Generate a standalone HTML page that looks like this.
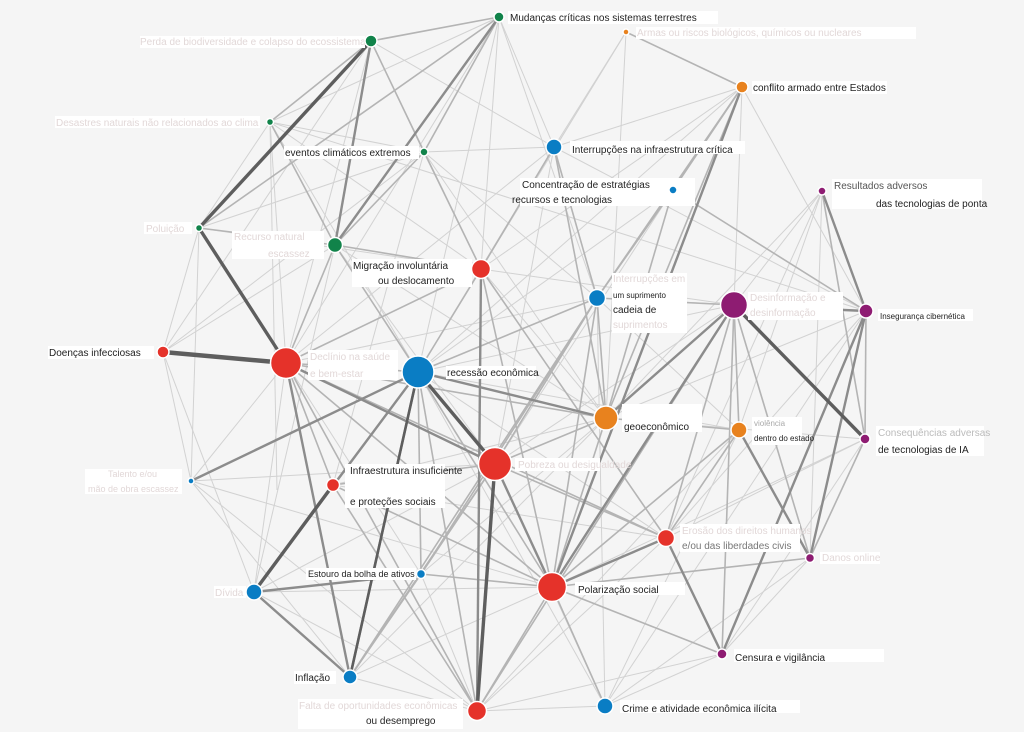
<!DOCTYPE html>
<html><head><meta charset="utf-8">
<style>
html,body{margin:0;padding:0;background:#f5f5f5;}
svg{display:block;font-family:"Liberation Sans",sans-serif;}
.t{stroke:#d2d2d2;stroke-width:1;}
.m{stroke:#b4b4b4;stroke-width:1.6;}
.d{stroke:#8c8c8c;stroke-width:2.4;}
.k{stroke:#5e5e5e;stroke-width:3.4;}
.lb{fill:#222;font-size:10px;}
.fl{fill:#e2d8d8;font-size:10px;}
.bg{fill:#fff;}
circle{stroke:#fff;stroke-width:1.5;}
</style></head><body>
<svg width="1024" height="732" viewBox="0 0 1024 732">
<rect width="1024" height="732" fill="#f5f5f5"/>
<g>
<!-- thin edges -->
<line class="t" x1="499" y1="17" x2="270" y2="122"/>
<line class="t" x1="499" y1="17" x2="554" y2="147"/>
<line class="t" x1="499" y1="17" x2="481" y2="269"/>
<line class="t" x1="499" y1="17" x2="597" y2="298"/>
<line class="t" x1="499" y1="17" x2="286" y2="363"/>
<line class="t" x1="499" y1="17" x2="418" y2="372"/>
<line class="t" x1="371" y1="41" x2="481" y2="269"/>
<line class="t" x1="371" y1="41" x2="163" y2="352"/>
<line class="t" x1="371" y1="41" x2="286" y2="363"/>
<line class="t" x1="371" y1="41" x2="554" y2="147"/>
<line class="t" x1="270" y1="122" x2="866" y2="311"/>
<line class="t" x1="270" y1="122" x2="424" y2="152"/>
<line class="t" x1="270" y1="122" x2="481" y2="269"/>
<line class="t" x1="270" y1="122" x2="418" y2="372"/>
<line class="t" x1="270" y1="122" x2="286" y2="363"/>
<line class="t" x1="270" y1="122" x2="199" y2="228"/>
<line class="t" x1="270" y1="122" x2="277" y2="490"/>
<line class="t" x1="424" y1="152" x2="163" y2="352"/>
<line class="t" x1="424" y1="152" x2="597" y2="298"/>
<line class="t" x1="424" y1="152" x2="606" y2="418"/>
<line class="t" x1="424" y1="152" x2="554" y2="147"/>
<line class="t" x1="424" y1="152" x2="333" y2="485"/>
<line class="t" x1="199" y1="228" x2="163" y2="352"/>
<line class="t" x1="199" y1="228" x2="191" y2="481"/>
<line class="t" x1="199" y1="228" x2="481" y2="269"/>
<line class="t" x1="199" y1="228" x2="424" y2="152"/>
<line class="t" x1="335" y1="245" x2="606" y2="418"/>
<line class="t" x1="335" y1="245" x2="254" y2="592"/>
<line class="t" x1="335" y1="245" x2="163" y2="352"/>
<line class="t" x1="335" y1="245" x2="495" y2="464"/>
<line class="t" x1="626" y1="32" x2="554" y2="147"/>
<line class="t" x1="626" y1="32" x2="481" y2="269"/>
<line class="t" x1="626" y1="32" x2="606" y2="418"/>
<line class="t" x1="626" y1="32" x2="418" y2="372"/>
<line class="t" x1="742" y1="87" x2="554" y2="147"/>
<line class="t" x1="742" y1="87" x2="734" y2="305"/>
<line class="t" x1="742" y1="87" x2="866" y2="311"/>
<line class="t" x1="742" y1="87" x2="481" y2="269"/>
<line class="t" x1="742" y1="87" x2="418" y2="372"/>
<line class="t" x1="554" y1="147" x2="418" y2="372"/>
<line class="t" x1="554" y1="147" x2="866" y2="311"/>
<line class="t" x1="554" y1="147" x2="495" y2="464"/>
<line class="t" x1="554" y1="147" x2="286" y2="363"/>
<line class="t" x1="673" y1="190" x2="418" y2="372"/>
<line class="t" x1="673" y1="190" x2="866" y2="311"/>
<line class="t" x1="673" y1="190" x2="495" y2="464"/>
<line class="t" x1="822" y1="191" x2="734" y2="305"/>
<line class="t" x1="822" y1="191" x2="606" y2="418"/>
<line class="t" x1="822" y1="191" x2="739" y2="430"/>
<line class="t" x1="822" y1="191" x2="810" y2="558"/>
<line class="t" x1="822" y1="191" x2="666" y2="538"/>
<line class="t" x1="734" y1="305" x2="810" y2="558"/>
<line class="t" x1="734" y1="305" x2="552" y2="587"/>
<line class="t" x1="734" y1="305" x2="495" y2="464"/>
<line class="t" x1="734" y1="305" x2="418" y2="372"/>
<line class="t" x1="866" y1="311" x2="722" y2="654"/>
<line class="t" x1="866" y1="311" x2="606" y2="418"/>
<line class="t" x1="866" y1="311" x2="666" y2="538"/>
<line class="t" x1="866" y1="311" x2="605" y2="706"/>
<line class="t" x1="865" y1="439" x2="722" y2="654"/>
<line class="t" x1="865" y1="439" x2="552" y2="587"/>
<line class="t" x1="865" y1="439" x2="606" y2="418"/>
<line class="t" x1="865" y1="439" x2="666" y2="538"/>
<line class="t" x1="810" y1="558" x2="605" y2="706"/>
<line class="t" x1="810" y1="558" x2="552" y2="587"/>
<line class="t" x1="810" y1="558" x2="722" y2="654"/>
<line class="t" x1="722" y1="654" x2="605" y2="706"/>
<line class="t" x1="722" y1="654" x2="477" y2="711"/>
<line class="t" x1="605" y1="706" x2="477" y2="711"/>
<line class="t" x1="605" y1="706" x2="495" y2="464"/>
<line class="t" x1="605" y1="706" x2="418" y2="372"/>
<line class="t" x1="605" y1="706" x2="739" y2="430"/>
<line class="t" x1="605" y1="706" x2="597" y2="298"/>
<line class="t" x1="191" y1="481" x2="286" y2="363"/>
<line class="t" x1="191" y1="481" x2="495" y2="464"/>
<line class="t" x1="191" y1="481" x2="477" y2="711"/>
<line class="t" x1="191" y1="481" x2="350" y2="677"/>
<line class="t" x1="191" y1="481" x2="552" y2="587"/>
<line class="t" x1="191" y1="481" x2="163" y2="352"/>
<line class="t" x1="254" y1="592" x2="495" y2="464"/>
<line class="t" x1="254" y1="592" x2="552" y2="587"/>
<line class="t" x1="254" y1="592" x2="477" y2="711"/>
<line class="t" x1="254" y1="592" x2="286" y2="363"/>
<line class="t" x1="254" y1="592" x2="163" y2="352"/>
<line class="t" x1="350" y1="677" x2="552" y2="587"/>
<line class="t" x1="350" y1="677" x2="477" y2="711"/>
<line class="t" x1="350" y1="677" x2="286" y2="363"/>
<line class="t" x1="350" y1="677" x2="606" y2="418"/>
<line class="t" x1="421" y1="574" x2="477" y2="711"/>
<line class="t" x1="421" y1="574" x2="606" y2="418"/>
<line class="t" x1="421" y1="574" x2="286" y2="363"/>
<line class="t" x1="477" y1="711" x2="666" y2="538"/>
<line class="t" x1="477" y1="711" x2="739" y2="430"/>
<line class="t" x1="477" y1="711" x2="286" y2="363"/>
<line class="t" x1="333" y1="485" x2="666" y2="538"/>
<line class="t" x1="333" y1="485" x2="606" y2="418"/>
<line class="t" x1="666" y1="538" x2="418" y2="372"/>
<line class="t" x1="739" y1="430" x2="418" y2="372"/>
<line class="t" x1="739" y1="430" x2="597" y2="298"/>
<line class="t" x1="481" y1="269" x2="606" y2="418"/>
<line class="t" x1="481" y1="269" x2="734" y2="305"/>
<line class="t" x1="597" y1="298" x2="286" y2="363"/>
<line class="t" x1="597" y1="298" x2="866" y2="311"/>
<!-- medium -->
<line class="m" x1="499" y1="17" x2="371" y2="41"/>
<line class="m" x1="499" y1="17" x2="424" y2="152"/>
<line class="m" x1="499" y1="17" x2="199" y2="228"/>
<line class="m" x1="626" y1="32" x2="742" y2="87"/>
<line class="m" x1="371" y1="41" x2="424" y2="152"/>
<line class="m" x1="371" y1="41" x2="270" y2="122"/>
<line class="m" x1="270" y1="122" x2="335" y2="245"/>
<line class="m" x1="424" y1="152" x2="335" y2="245"/>
<line class="m" x1="424" y1="152" x2="481" y2="269"/>
<line class="m" x1="199" y1="228" x2="335" y2="245"/>
<line class="m" x1="335" y1="245" x2="481" y2="269"/>
<line class="m" x1="335" y1="245" x2="418" y2="372"/>
<line class="m" x1="335" y1="245" x2="286" y2="363"/>
<line class="m" x1="742" y1="87" x2="597" y2="298"/>
<line class="m" x1="742" y1="87" x2="606" y2="418"/>
<line class="m" x1="742" y1="87" x2="673" y2="190"/>
<line class="m" x1="554" y1="147" x2="597" y2="298"/>
<line class="m" x1="554" y1="147" x2="606" y2="418"/>
<line class="m" x1="554" y1="147" x2="481" y2="269"/>
<line class="m" x1="673" y1="190" x2="597" y2="298"/>
<line class="m" x1="673" y1="190" x2="606" y2="418"/>
<line class="m" x1="822" y1="191" x2="866" y2="311"/>
<line class="m" x1="822" y1="191" x2="865" y2="439"/>
<line class="m" x1="734" y1="305" x2="866" y2="311"/>
<line class="m" x1="734" y1="305" x2="739" y2="430"/>
<line class="m" x1="734" y1="305" x2="722" y2="654"/>
<line class="m" x1="734" y1="305" x2="666" y2="538"/>
<line class="m" x1="734" y1="305" x2="810" y2="558"/>
<line class="m" x1="734" y1="305" x2="477" y2="711"/>
<line class="m" x1="866" y1="311" x2="865" y2="439"/>
<line class="m" x1="866" y1="311" x2="810" y2="558"/>
<line class="m" x1="865" y1="439" x2="810" y2="558"/>
<line class="m" x1="597" y1="298" x2="418" y2="372"/>
<line class="m" x1="597" y1="298" x2="606" y2="418"/>
<line class="m" x1="597" y1="298" x2="495" y2="464"/>
<line class="m" x1="597" y1="298" x2="552" y2="587"/>
<line class="m" x1="597" y1="298" x2="734" y2="305"/>
<line class="m" x1="606" y1="418" x2="418" y2="372"/>
<line class="m" x1="606" y1="418" x2="495" y2="464"/>
<line class="m" x1="606" y1="418" x2="552" y2="587"/>
<line class="m" x1="606" y1="418" x2="739" y2="430"/>
<line class="m" x1="606" y1="418" x2="286" y2="363"/>
<line class="m" x1="739" y1="430" x2="810" y2="558"/>
<line class="m" x1="739" y1="430" x2="552" y2="587"/>
<line class="m" x1="739" y1="430" x2="666" y2="538"/>
<line class="m" x1="481" y1="269" x2="418" y2="372"/>
<line class="m" x1="481" y1="269" x2="286" y2="363"/>
<line class="m" x1="481" y1="269" x2="552" y2="587"/>
<line class="m" x1="481" y1="269" x2="666" y2="538"/>
<line class="m" x1="286" y1="363" x2="418" y2="372"/>
<line class="m" x1="286" y1="363" x2="333" y2="485"/>
<line class="m" x1="286" y1="363" x2="552" y2="587"/>
<line class="m" x1="286" y1="363" x2="666" y2="538"/>
<line class="m" x1="418" y1="372" x2="333" y2="485"/>
<line class="m" x1="418" y1="372" x2="421" y2="574"/>
<line class="m" x1="418" y1="372" x2="477" y2="711"/>
<line class="m" x1="418" y1="372" x2="552" y2="587"/>
<line class="m" x1="191" y1="481" x2="418" y2="372"/>
<line class="m" x1="495" y1="464" x2="333" y2="485"/>
<line class="m" x1="495" y1="464" x2="666" y2="538"/>
<line class="m" x1="495" y1="464" x2="421" y2="574"/>
<line class="m" x1="495" y1="464" x2="350" y2="677"/>
<line class="m" x1="552" y1="587" x2="666" y2="538"/>
<line class="m" x1="552" y1="587" x2="810" y2="558"/>
<line class="m" x1="552" y1="587" x2="722" y2="654"/>
<line class="m" x1="552" y1="587" x2="605" y2="706"/>
<line class="m" x1="552" y1="587" x2="477" y2="711"/>
<line class="m" x1="552" y1="587" x2="333" y2="485"/>
<line class="m" x1="666" y1="538" x2="722" y2="654"/>
<line class="m" x1="333" y1="485" x2="477" y2="711"/>
<line class="m" x1="254" y1="592" x2="421" y2="574"/>
<line class="m" x1="254" y1="592" x2="350" y2="677"/>
<line class="m" x1="421" y1="574" x2="350" y2="677"/>
<line class="m" x1="421" y1="574" x2="552" y2="587"/>
<line class="m" x1="421" y1="574" x2="597" y2="298"/>
<line class="m" x1="350" y1="677" x2="597" y2="298"/>
<line class="m" x1="286" y1="363" x2="477" y2="711"/>
<line class="m" x1="673" y1="190" x2="866" y2="311"/>
<!-- dark -->
<line class="d" x1="499" y1="17" x2="335" y2="245"/>
<line class="d" x1="371" y1="41" x2="335" y2="245"/>
<line class="d" x1="742" y1="87" x2="552" y2="587"/>
<line class="d" x1="734" y1="305" x2="606" y2="418"/>
<line class="d" x1="734" y1="305" x2="866" y2="311"/>
<line class="d" x1="866" y1="311" x2="722" y2="654"/>
<line class="d" x1="822" y1="191" x2="866" y2="311"/>
<line class="d" x1="481" y1="269" x2="477" y2="711"/>
<line class="d" x1="418" y1="372" x2="350" y2="677"/>
<line class="d" x1="418" y1="372" x2="254" y2="592"/>
<line class="d" x1="418" y1="372" x2="606" y2="418"/>
<line class="d" x1="286" y1="363" x2="495" y2="464"/>
<line class="d" x1="286" y1="363" x2="350" y2="677"/>
<line class="d" x1="254" y1="592" x2="350" y2="677"/>
<line class="d" x1="254" y1="592" x2="421" y2="574"/>
<line class="d" x1="734" y1="305" x2="552" y2="587"/>
<line class="d" x1="495" y1="464" x2="552" y2="587"/>
<line class="d" x1="552" y1="587" x2="666" y2="538"/>
<line class="d" x1="666" y1="538" x2="722" y2="654"/>
<line class="d" x1="739" y1="430" x2="810" y2="558"/>
<line class="d" x1="866" y1="311" x2="810" y2="558"/>
<line class="d" x1="191" y1="481" x2="418" y2="372"/>
<!-- very dark -->
<line class="k" x1="163" y1="352" x2="286" y2="363" style="stroke-width:4.5"/>
<line class="k" x1="199" y1="228" x2="286" y2="363"/>
<line class="k" x1="199" y1="228" x2="371" y2="41"/>
<line class="k" x1="254" y1="592" x2="333" y2="485"/>
<line class="k" x1="734" y1="305" x2="865" y2="439"/>
<line class="k" x1="418" y1="372" x2="495" y2="464"/>
<line class="k" x1="495" y1="464" x2="477" y2="711"/>
<line class="k" x1="418" y1="372" x2="350" y2="677" style="stroke-width:2.6"/>
</g>

<!-- label backgrounds -->
<g class="bg">
<rect x="508" y="11" width="210" height="13"/>
<rect x="140" y="36" width="225" height="12"/>
<rect x="636" y="27" width="280" height="12"/>
<rect x="752" y="81" width="135" height="13"/>
<rect x="55" y="116" width="205" height="12"/>
<rect x="284" y="146" width="135" height="13"/>
<rect x="570" y="141" width="175" height="13"/>
<rect x="520" y="178" width="175" height="28"/>
<rect x="832" y="179" width="150" height="30"/>
<rect x="144" y="222" width="48" height="12"/>
<rect x="232" y="231" width="92" height="28"/>
<rect x="352" y="259" width="120" height="28"/>
<rect x="612" y="273" width="75" height="60"/>
<rect x="748" y="292" width="95" height="28"/>
<rect x="878" y="309" width="95" height="12"/>
<rect x="48" y="346" width="106" height="13"/>
<rect x="308" y="350" width="90" height="30"/>
<rect x="446" y="366" width="90" height="13"/>
<rect x="622" y="404" width="80" height="28"/>
<rect x="752" y="417" width="50" height="28"/>
<rect x="876" y="426" width="108" height="30"/>
<rect x="515" y="458" width="85" height="13"/>
<rect x="345" y="464" width="100" height="44"/>
<rect x="85" y="469" width="97" height="25"/>
<rect x="680" y="524" width="120" height="28"/>
<rect x="820" y="552" width="60" height="12"/>
<rect x="306" y="568" width="110" height="12"/>
<rect x="214" y="586" width="32" height="12"/>
<rect x="575" y="582" width="110" height="13"/>
<rect x="734" y="649" width="150" height="13"/>
<rect x="294" y="671" width="42" height="13"/>
<rect x="298" y="699" width="165" height="30"/>
<rect x="620" y="700" width="180" height="13"/>
</g>

<!-- labels -->
<g>
<text class="lb" x="510" y="21">Mudanças críticas nos sistemas terrestres</text>
<text class="fl" x="140" y="45">Perda de biodiversidade e colapso do ecossistema</text>
<text class="fl" x="637" y="36">Armas ou riscos biológicos, químicos ou nucleares</text>
<text class="lb" x="753" y="91">conflito armado entre Estados</text>
<text class="fl" x="56" y="126">Desastres naturais não relacionados ao clima</text>
<text class="lb" x="285" y="156">eventos climáticos extremos</text>
<text class="lb" x="572" y="153">Interrupções na infraestrutura crítica</text>
<text class="lb" x="522" y="188">Concentração de estratégias</text>
<text class="lb" x="512" y="203">recursos e tecnologias</text>
<text class="fl" x="834" y="189" style="fill:#555">Resultados adversos</text>
<text class="lb" x="876" y="207">das tecnologias de ponta</text>
<text class="fl" x="146" y="232">Poluição</text>
<text class="fl" x="234" y="240">Recurso natural</text>
<text class="fl" x="268" y="257">escassez</text>
<text class="lb" x="353" y="269">Migração involuntária</text>
<text class="lb" x="378" y="284">ou deslocamento</text>
<text class="fl" x="613" y="282">Interrupções em</text>
<text class="lb" x="613" y="298" style="font-size:8px">um suprimento</text>
<text class="lb" x="613" y="313">cadeia de</text>
<text class="fl" x="613" y="328">suprimentos</text>
<text class="fl" x="750" y="301">Desinformação e</text>
<text class="fl" x="750" y="316">desinformação</text>
<text class="lb" x="880" y="319" style="font-size:8px">Insegurança cibernética</text>
<text class="lb" x="49" y="356">Doenças infecciosas</text>
<text class="fl" x="310" y="360">Declínio na saúde</text>
<text class="fl" x="310" y="377">e bem-estar</text>
<text class="lb" x="447" y="376">recessão econômica</text>
<text class="lb" x="624" y="430">geoeconômico</text>
<text class="lb" x="754" y="426" style="font-size:8px;fill:#aaa">violência</text>
<text class="lb" x="754" y="441" style="font-size:8px">dentro do estado</text>
<text class="fl" x="878" y="436" style="fill:#bbb">Consequências adversas</text>
<text class="lb" x="878" y="453">de tecnologias de IA</text>
<text class="fl" x="518" y="468">Pobreza ou desigualdade</text>
<text class="lb" x="350" y="474">Infraestrutura insuficiente</text>
<text class="lb" x="350" y="505">e proteções sociais</text>
<text class="fl" x="108" y="477" style="font-size:9px">Talento e/ou</text>
<text class="fl" x="88" y="492" style="font-size:9px">mão de obra escassez</text>
<text class="fl" x="682" y="534">Erosão dos direitos humanos</text>
<text class="lb" x="682" y="549" style="fill:#777">e/ou das liberdades civis</text>
<text class="fl" x="822" y="561">Danos online</text>
<text class="lb" x="308" y="577" style="font-size:9px">Estouro da bolha de ativos</text>
<text class="fl" x="215" y="596">Dívida</text>
<text class="lb" x="578" y="593">Polarização social</text>
<text class="lb" x="735" y="661">Censura e vigilância</text>
<text class="lb" x="295" y="681">Inflação</text>
<text class="fl" x="299" y="709">Falta de oportunidades econômicas</text>
<text class="lb" x="366" y="724">ou desemprego</text>
<text class="lb" x="622" y="712">Crime e atividade econômica ilícita</text>
</g>

<!-- nodes -->
<g>
<circle cx="499" cy="17" r="5" fill="#11834a"/>
<circle cx="371" cy="41" r="6" fill="#11834a"/>
<circle cx="270" cy="122" r="3.5" fill="#11834a"/>
<circle cx="424" cy="152" r="4" fill="#11834a"/>
<circle cx="199" cy="228" r="3.5" fill="#11834a"/>
<circle cx="335" cy="245" r="7.5" fill="#11834a"/>
<circle cx="481" cy="269" r="9.5" fill="#e5322a"/>
<circle cx="163" cy="352" r="6" fill="#e5322a"/>
<circle cx="286" cy="363" r="15.5" fill="#e5322a"/>
<circle cx="418" cy="372" r="16" fill="#0a7dc4"/>
<circle cx="626" cy="32" r="3" fill="#e8821e"/>
<circle cx="742" cy="87" r="6" fill="#e8821e"/>
<circle cx="554" cy="147" r="8" fill="#0a7dc4"/>
<circle cx="673" cy="190" r="4" fill="#0a7dc4"/>
<circle cx="822" cy="191" r="4" fill="#8e1c72"/>
<circle cx="597" cy="298" r="8.5" fill="#0a7dc4"/>
<circle cx="734" cy="305" r="13.5" fill="#8e1c72"/>
<circle cx="866" cy="311" r="7" fill="#8e1c72"/>
<circle cx="606" cy="418" r="12" fill="#e8821e"/>
<circle cx="739" cy="430" r="8" fill="#e8821e"/>
<circle cx="865" cy="439" r="5" fill="#8e1c72"/>
<circle cx="495" cy="464" r="16.5" fill="#e5322a"/>
<circle cx="333" cy="485" r="6.5" fill="#e5322a"/>
<circle cx="191" cy="481" r="3" fill="#0a7dc4"/>
<circle cx="421" cy="574" r="4.5" fill="#0a7dc4"/>
<circle cx="254" cy="592" r="8" fill="#0a7dc4"/>
<circle cx="350" cy="677" r="7" fill="#0a7dc4"/>
<circle cx="477" cy="711" r="9.5" fill="#e5322a"/>
<circle cx="552" cy="587" r="14.5" fill="#e5322a"/>
<circle cx="666" cy="538" r="8.5" fill="#e5322a"/>
<circle cx="810" cy="558" r="4.5" fill="#8e1c72"/>
<circle cx="722" cy="654" r="5" fill="#8e1c72"/>
<circle cx="605" cy="706" r="8" fill="#0a7dc4"/>
</g>
</svg>
</body></html>
